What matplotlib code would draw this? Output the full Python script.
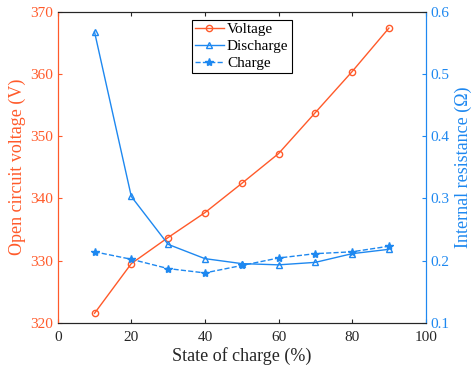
import matplotlib.pyplot as plt

soc = [10, 20, 30, 40, 50, 60, 70, 80, 90]
voltage = [321.5, 329.5, 333.7, 337.7, 342.4, 347.2, 353.8, 360.4, 367.4]
discharge = [0.568, 0.303, 0.226, 0.203, 0.195, 0.193, 0.197, 0.211, 0.218]
charge = [0.214, 0.202, 0.187, 0.180, 0.192, 0.204, 0.211, 0.214, 0.223]

orange = '#FF5A2A'
blue = '#1E88F0'

plt.rcParams['font.family'] = 'Liberation Serif'
plt.rcParams['font.size'] = 11
plt.rcParams['xtick.direction'] = 'in'
plt.rcParams['ytick.direction'] = 'in'

fig = plt.figure(figsize=(4.73, 3.73), dpi=100)
ax = fig.add_axes([0.122, 0.135, 0.778, 0.833])
ax2 = ax.twinx()

l1, = ax.plot(soc, voltage, '-o', color=orange, lw=1, ms=4.5, mfc='none', mew=1, label='Voltage')
l2, = ax2.plot(soc, discharge, '-^', color=blue, lw=1, ms=4.5, mfc='none', mew=1, label='Discharge')
l3, = ax2.plot(soc, charge, '--*', color=blue, lw=1, ms=6, label='Charge')

ax.set_xlim(0, 100)
ax.set_ylim(320, 370)
ax2.set_ylim(0.1, 0.6)
ax.set_xticks([0, 20, 40, 60, 80, 100])
ax.set_yticks([320, 330, 340, 350, 360, 370])
ax2.set_yticks([0.1, 0.2, 0.3, 0.4, 0.5, 0.6])

ax.set_xlabel('State of charge (%)', color='#262626', labelpad=2, fontsize=13)
ax.set_ylabel('Open circuit voltage (V)', color=orange, labelpad=3, fontsize=13)
ax2.set_ylabel('Internal resistance (Ω)', color=blue, labelpad=4, fontsize=13)

ax.tick_params(axis='x', colors='#262626', top=True, length=3, pad=6)
ax.tick_params(axis='y', colors=orange, length=3)
ax2.tick_params(axis='y', colors=blue, length=3)

for a in (ax, ax2):
    a.spines['top'].set_color('#262626')
    a.spines['bottom'].set_color('#262626')
    a.spines['left'].set_color(orange)
    a.spines['right'].set_color(blue)
    for s in a.spines.values():
        s.set_linewidth(0.8)

leg = ax2.legend(handles=[l1, l2, l3], loc='upper center', bbox_to_anchor=(0.5, 0.975),
                 fancybox=False, edgecolor='black', framealpha=1, handlelength=1.9,
                 handletextpad=0.2, borderpad=0.2, labelspacing=0.2, borderaxespad=0,
                 fontsize=11)
leg.get_frame().set_linewidth(0.8)

fig.savefig('out.png', dpi=100)
